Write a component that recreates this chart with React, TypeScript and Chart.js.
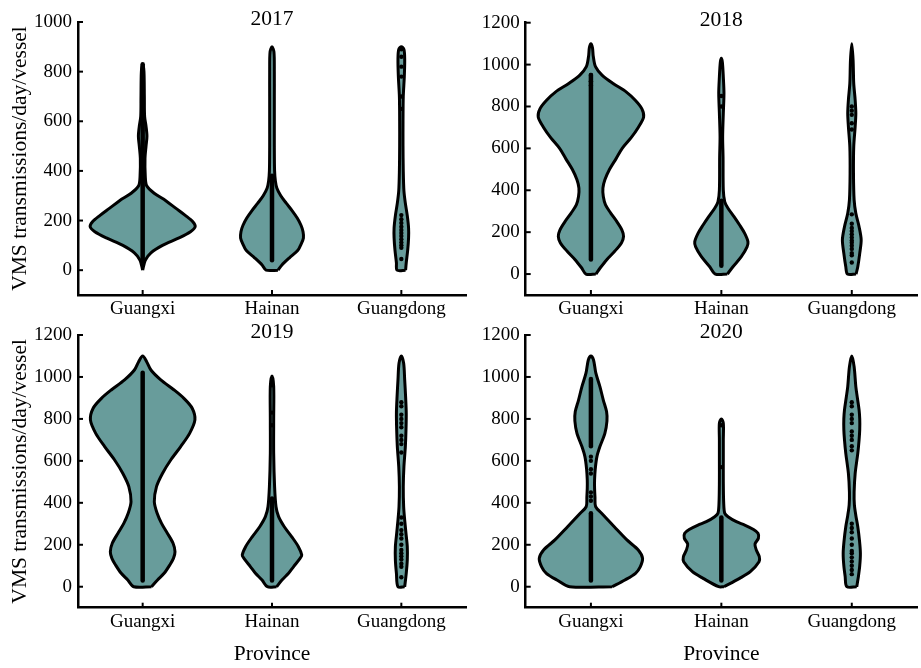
import React, { useEffect, useRef } from 'react';
import { Chart, registerables } from 'chart.js';

Chart.register(...registerables);

const FONT = "'Liberation Serif', 'Times New Roman', serif";
const FILL = '#689c9b';

const provinces = ['Guangxi', 'Hainan', 'Guangdong'];
const yTicks2017 = [0, 200, 400, 600, 800, 1000];
const yTicksLater = [0, 200, 400, 600, 800, 1000, 1200];

// Violin profiles: [value, half width in category units]
const guangxi2017 = [[0, 0], [40, 0.02], [70, 0.064], [100, 0.153], [130, 0.281], [155, 0.37], [175, 0.406], [195, 0.388], [220, 0.332], [250, 0.255], [280, 0.179], [310, 0.089], [340, 0.031], [380, 0.02], [450, 0.018], [500, 0.026], [540, 0.033], [580, 0.026], [620, 0.015], [700, 0.013], [800, 0.01], [830, 0]];
const hainan2017 = [[0, 0.046], [20, 0.075], [50, 0.135], [80, 0.2], [105, 0.225], [130, 0.243], [155, 0.24], [180, 0.225], [210, 0.195], [240, 0.155], [270, 0.11], [300, 0.068], [330, 0.038], [360, 0.026], [400, 0.02], [500, 0.018], [600, 0.018], [700, 0.018], [800, 0.018], [880, 0.015], [900, 0]];
const guangdong2017 = [[0, 0.033], [30, 0.038], [80, 0.049], [130, 0.056], [170, 0.056], [220, 0.046], [270, 0.031], [320, 0.02], [400, 0.015], [500, 0.013], [600, 0.013], [700, 0.015], [780, 0.023], [850, 0.026], [890, 0.02], [900, 0]];

const guangxi2018 = [[0, 0.038], [30, 0.072], [70, 0.123], [110, 0.184], [150, 0.235], [180, 0.25], [210, 0.238], [250, 0.199], [290, 0.153], [330, 0.112], [370, 0.095], [410, 0.092], [450, 0.107], [500, 0.143], [550, 0.192], [600, 0.24], [650, 0.307], [700, 0.363], [750, 0.404], [790, 0.39], [830, 0.34], [870, 0.27], [910, 0.17], [950, 0.085], [990, 0.035], [1040, 0.018], [1080, 0.012], [1100, 0]];
const hainan2018 = [[0, 0.046], [35, 0.089], [83, 0.153], [130, 0.197], [154, 0.204], [194, 0.179], [234, 0.14], [274, 0.097], [314, 0.051], [345, 0.026], [401, 0.015], [560, 0.013], [656, 0.01], [767, 0.015], [863, 0.02], [942, 0.015], [1010, 0.008], [1030, 0]];
const guangdong2018 = [[0, 0.033], [35, 0.046], [99, 0.061], [163, 0.072], [226, 0.056], [290, 0.031], [354, 0.018], [481, 0.013], [608, 0.015], [704, 0.026], [767, 0.031], [831, 0.026], [910, 0.015], [1022, 0.01], [1100, 0]];

const guangxi2019 = [[0, 0.069], [32, 0.115], [64, 0.166], [103, 0.209], [135, 0.238], [167, 0.25], [207, 0.235], [254, 0.192], [302, 0.146], [350, 0.112], [405, 0.09], [477, 0.107], [540, 0.153], [604, 0.217], [668, 0.294], [731, 0.363], [795, 0.404], [851, 0.383], [898, 0.319], [938, 0.243], [986, 0.14], [1033, 0.064], [1073, 0.031], [1100, 0]];
const hainan2019 = [[0, 0.036], [32, 0.077], [64, 0.128], [95, 0.166], [135, 0.217], [151, 0.23], [191, 0.204], [238, 0.153], [286, 0.095], [334, 0.051], [381, 0.031], [477, 0.02], [636, 0.013], [795, 0.013], [954, 0.013], [1005, 0]];
const guangdong2019 = [[0, 0.026], [64, 0.038], [127, 0.046], [191, 0.046], [254, 0.036], [318, 0.026], [381, 0.018], [477, 0.015], [572, 0.02], [668, 0.031], [747, 0.036], [827, 0.038], [906, 0.033], [986, 0.026], [1065, 0.018], [1100, 0]];

const guangxi2020 = [[0, 0.163], [32, 0.261], [64, 0.342], [95, 0.378], [135, 0.396], [175, 0.363], [223, 0.276], [286, 0.179], [350, 0.082], [382, 0.036], [429, 0.031], [470, 0.028], [509, 0.028], [560, 0.033], [620, 0.046], [668, 0.069], [731, 0.107], [790, 0.123], [835, 0.12], [890, 0.095], [954, 0.069], [1018, 0.038], [1081, 0.02], [1100, 0]];
const hainan2020 = [[0, 0.02], [40, 0.14], [72, 0.222], [119, 0.289], [143, 0.291], [175, 0.268], [204, 0.258], [231, 0.284], [255, 0.281], [274, 0.243], [294, 0.179], [310, 0.115], [334, 0.051], [350, 0.026], [400, 0.018], [500, 0.015], [600, 0.015], [700, 0.015], [780, 0.015], [800, 0]];
const guangdong2020 = [[0, 0.038], [50, 0.051], [100, 0.061], [160, 0.066], [220, 0.059], [286, 0.046], [340, 0.031], [390, 0.02], [450, 0.018], [540, 0.026], [636, 0.046], [700, 0.056], [750, 0.061], [800, 0.061], [843, 0.056], [900, 0.043], [954, 0.031], [1049, 0.018], [1100, 0]];

// Dense point strips [from, to] per violin
const strips2017 = [[[35, 830]], [[40, 380]], []];
const strips2018 = [[[70, 950]], [[40, 350]], []];
const strips2019 = [[[30, 1020]], [[30, 420]], []];
const strips2020 = [[[30, 350], [670, 990]], [[30, 330]], []];

// Individual points per violin
const dots2017 = [[], [], [45, 90, 100, 112, 125, 138, 150, 162, 175, 190, 205, 222, 650, 700, 780, 820, 860, 890]];
const dots2018 = [[900, 920, 950], [650, 800, 850], [55, 90, 100, 120, 135, 150, 160, 175, 190, 205, 220, 240, 285, 690, 720, 760, 780, 800]];
const dots2019 = [[], [770, 830, 960], [45, 95, 110, 130, 145, 160, 175, 200, 230, 250, 270, 300, 330, 640, 680, 700, 720, 760, 780, 800, 820, 860, 880]];
const dots2020 = [[410, 430, 450, 540, 560, 600, 620], [570, 770], [60, 80, 100, 120, 140, 160, 170, 200, 230, 260, 280, 300, 650, 670, 700, 720, 740, 780, 800, 820, 860, 880]];

const panels = [
  { year: '2017', profiles: [guangxi2017, hainan2017, guangdong2017], strips: strips2017, dots: dots2017, yMax: 1000, yTicks: yTicks2017, left: 0, top: 0, width: 470, height: 330, yAxisWidth: 78, padTop: 22, padRight: 0, xAxisHeight: 35, yTitle: true, xTitle: false },
  { year: '2018', profiles: [guangxi2018, hainan2018, guangdong2018], strips: strips2018, dots: dots2018, yMax: 1200, yTicks: yTicksLater, left: 470, top: 0, width: 451, height: 330, yAxisWidth: 55.7, padTop: 22.7, padRight: 4, xAxisHeight: 35, yTitle: false, xTitle: false },
  { year: '2019', profiles: [guangxi2019, hainan2019, guangdong2019], strips: strips2019, dots: dots2019, yMax: 1200, yTicks: yTicksLater, left: 0, top: 305, width: 470, height: 363, yAxisWidth: 78, padTop: 30, padRight: 0, xAxisHeight: 60.3, yTitle: true, xTitle: true },
  { year: '2020', profiles: [guangxi2020, hainan2020, guangdong2020], strips: strips2020, dots: dots2020, yMax: 1200, yTicks: yTicksLater, left: 470, top: 305, width: 451, height: 363, yAxisWidth: 55.7, padTop: 30, padRight: 4, xAxisHeight: 60.3, yTitle: false, xTitle: true },
];

function Panel({ cfg }: { cfg: any }) {
  const ref = useRef<HTMLCanvasElement | null>(null);
  useEffect(() => {
    if (!ref.current) return;
    const datasets: any[] = [];
    cfg.profiles.forEach((prof: number[][], i: number) => {
      const right = prof.map(([v, w]) => ({ x: i + w, y: v }));
      const left = prof.slice(0, -1).reverse().map(([v, w]) => ({ x: i - w, y: v }));
      const pts = [...right, ...left, right[0]];
      datasets.push({
        type: 'line', data: pts, borderColor: '#000', borderWidth: 3, backgroundColor: FILL,
        fill: 'shape', pointRadius: 0, tension: 0.3, order: 3, borderJoinStyle: 'round',
      });
    });
    cfg.strips.forEach((segs: number[][], i: number) => {
      segs.forEach(([a, b]) => {
        datasets.push({
          type: 'line', data: [{ x: i, y: a }, { x: i, y: b }], borderColor: '#000', borderWidth: 4.5,
          pointRadius: 0, fill: false, order: 2, borderCapStyle: 'round',
        });
      });
    });
    cfg.dots.forEach((vals: number[], i: number) => {
      if (!vals.length) return;
      datasets.push({
        type: 'line', data: vals.map((v) => ({ x: i, y: v })), showLine: false, pointRadius: 2.2,
        pointBackgroundColor: '#000', pointBorderWidth: 0, fill: false, order: 1,
      });
    });

    const deco = {
      id: 'deco',
      afterDraw(chart: any) {
        const { ctx, chartArea, scales } = chart;
        ctx.save();
        ctx.strokeStyle = '#000';
        ctx.lineWidth = 2;
        scales.x.ticks.forEach((t: any) => {
          const px = scales.x.getPixelForValue(t.value);
          ctx.beginPath(); ctx.moveTo(px, chartArea.bottom); ctx.lineTo(px, chartArea.bottom - 5); ctx.stroke();
        });
        scales.y.ticks.forEach((t: any) => {
          const py = scales.y.getPixelForValue(t.value);
          ctx.beginPath(); ctx.moveTo(chartArea.left, py); ctx.lineTo(chartArea.left + 5, py); ctx.stroke();
        });
        ctx.fillStyle = '#000';
        ctx.font = `21.5px ${FONT}`;
        ctx.textAlign = 'center';
        ctx.textBaseline = 'alphabetic';
        ctx.fillText(cfg.year, (chartArea.left + chartArea.right) / 2, chartArea.top + 3);
        ctx.restore();
      },
    };

    const chart = new Chart(ref.current, {
      type: 'line',
      data: { datasets },
      options: {
        animation: false,
        responsive: false,
        maintainAspectRatio: false,
        events: [],
        layout: { padding: { top: cfg.padTop, right: cfg.padRight, left: 0, bottom: 0 } },
        plugins: { legend: { display: false }, tooltip: { enabled: false }, title: { display: false } },
        scales: {
          x: {
            type: 'linear', min: -0.5, max: 2.5,
            grid: { display: false, drawTicks: false },
            border: { display: true, color: '#000', width: 2.5 },
            afterBuildTicks: (s: any) => { s.ticks = provinces.map((_, i) => ({ value: i })); },
            ticks: {
              color: '#000', font: { family: FONT, size: 19 }, padding: 3, maxRotation: 0, autoSkip: false,
              callback: (_v: any, idx: number) => provinces[idx],
            },
            title: { display: cfg.xTitle, text: 'Province', color: '#000', font: { family: FONT, size: 21.5 }, padding: { top: 0, bottom: 1 } },
            afterFit: (s: any) => { s.height = cfg.xAxisHeight; },
          },
          y: {
            type: 'linear', min: -100, max: cfg.yMax,
            grid: { display: false, drawTicks: false },
            border: { display: true, color: '#000', width: 2.5 },
            afterBuildTicks: (s: any) => { s.ticks = cfg.yTicks.map((v: number) => ({ value: v })); },
            ticks: { color: '#000', font: { family: FONT, size: 19 }, padding: 6, callback: (v: any) => String(v) },
            title: { display: cfg.yTitle, text: 'VMS transmissions/day/vessel', color: '#000', font: { family: FONT, size: 21.5 }, padding: { top: 7.5, bottom: 0 } },
            afterFit: (s: any) => { s.width = cfg.yAxisWidth; },
          },
        },
      } as any,
      plugins: [deco],
    } as any);
    return () => chart.destroy();
  }, [cfg]);
  return (
    <canvas
      ref={ref}
      width={cfg.width}
      height={cfg.height}
      style={{ position: 'absolute', left: cfg.left, top: cfg.top, width: cfg.width, height: cfg.height }}
    />
  );
}

export default function App() {
  return (
    <div style={{ position: 'absolute', left: 0, top: 0, width: 921, height: 668, background: '#fff' }}>
      {panels.map((p) => (
        <Panel key={p.year} cfg={p} />
      ))}
    </div>
  );
}
